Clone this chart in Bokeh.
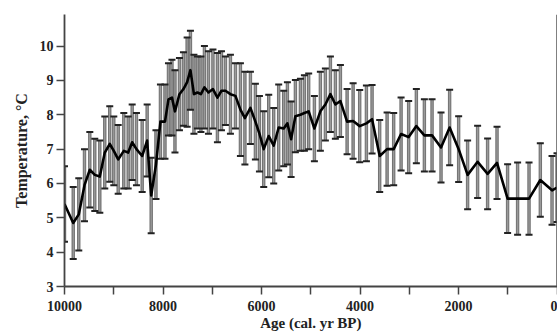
from bokeh.plotting import figure
from bokeh.models import Range1d, FixedTicker, Span, ColumnDataSource
from bokeh.embed import file_html
from bokeh.resources import INLINE

age = [10000, 9823, 9710, 9594, 9486, 9385, 9283, 9182, 9081, 8999,
       8910, 8796, 8707, 8626, 8539, 8423, 8322, 8240, 8143, 8052,
       7960, 7889, 7818, 7757, 7666, 7585, 7510, 7443, 7372, 7301,
       7230, 7159, 7077, 6986, 6895, 6813, 6732, 6631, 6529, 6428,
       6337, 6225, 6124, 6042, 5955, 5853, 5752, 5651, 5549, 5474,
       5399, 5312, 5210, 5129, 5042, 4926, 4805, 4703, 4601, 4500,
       4398, 4262, 4140, 4006, 3870, 3755, 3600, 3450, 3316, 3166,
       3012, 2856, 2693, 2537, 2355, 2180, 1997, 1815, 1612, 1409,
       1218, 1003, 800, 568, 339, 101, 0]

temperature = [5.4, 4.85, 5.1, 5.95, 6.4, 6.25, 6.2, 6.9, 7.15, 6.95,
               6.7, 6.95, 6.9, 7.2, 7.0, 6.8, 7.25, 5.65, 6.55, 7.8,
               7.8, 8.45, 8.5, 8.1, 8.6, 8.75, 8.95, 9.3, 8.6, 8.65,
               8.6, 8.8, 8.65, 8.75, 8.5, 8.7, 8.7, 8.6, 8.55, 8.15,
               7.9, 8.2, 7.8, 7.45, 7.0, 7.38, 7.1, 7.63, 7.6, 7.75,
               7.29, 7.96, 8.0, 8.05, 8.1, 7.6, 8.1, 8.3, 8.6, 8.3,
               8.4, 7.8, 7.82, 7.67, 7.75, 7.87, 6.8, 7.0, 7.0, 7.44,
               7.35, 7.67, 7.4, 7.4, 7.05, 7.63, 7.0, 6.25, 6.63, 6.28,
               6.6, 5.56, 5.56, 5.56, 6.1, 5.8, 5.88]

error = [1.1, 1.05, 1.05, 1.05, 1.1, 1.05, 1.05, 1.05, 1.1, 1.0,
         1.0, 1.1, 1.05, 1.1, 1.05, 1.05, 1.05, 1.1, 1.0, 1.08,
         1.08, 1.05, 1.1, 1.2, 1.05, 1.07, 1.3, 1.15, 1.15, 1.05,
         1.1, 1.2, 1.2, 1.15, 1.3, 1.15, 1.0, 1.15, 0.95, 1.35,
         1.35, 1.05, 1.1, 1.1, 1.1, 1.2, 1.1, 1.25, 1.1, 1.2,
         1.1, 1.05, 1.05, 1.1, 1.1, 0.95, 1.15, 1.05, 1.1, 1.0,
         1.05, 0.95, 1.1, 1.05, 1.1, 1.0, 1.05, 1.07, 1.05, 1.06,
         1.05, 1.08, 1.05, 1.05, 1.02, 1.1, 0.96, 1.0, 1.05, 1.03,
         1.05, 1.0, 1.05, 1.05, 1.07, 1.0, 1.0]

x_ticks = [10000, 9000, 8000, 7000, 6000, 5000, 4000, 3000, 2000, 1000, 0]
x_labels = {10000: "10000", 9000: "", 8000: "8000", 7000: "", 6000: "6000",
            5000: "", 4000: "4000", 3000: "", 2000: "2000", 1000: "", 0: "0"}
y_ticks = [3, 4, 5, 6, 7, 8, 9, 10]

lower = [t - e for t, e in zip(temperature, error)]
upper = [t + e for t, e in zip(temperature, error)]
src = ColumnDataSource(dict(age=age, t=temperature, lo=lower, hi=upper))

FONT = "Liberation Serif"

p = figure(width=557, height=333, output_backend="svg", toolbar_location=None,
           x_range=Range1d(10000, -10), y_range=Range1d(3, 10.92),
           min_border_left=64, min_border_right=0, min_border_top=14,
           min_border_bottom=44)
p.outline_line_color = None
p.grid.visible = False
p.background_fill_color = "white"
p.border_fill_color = "white"

# error bars
p.vbar(x="age", width=50, bottom="lo", top="hi", source=src,
       fill_color="#9a9a9a", line_color="#4a4a4a", line_width=0.7)
p.scatter(x="age", y="hi", source=src, marker="dash", size=7,
          line_color="#222222", line_width=2)
p.scatter(x="age", y="lo", source=src, marker="dash", size=7,
          line_color="#222222", line_width=2)

# main curve
p.line(x="age", y="t", source=src, line_color="black", line_width=2.6,
       line_join="round")

p.add_layout(Span(location=0, dimension="height", line_color="#555555",
                  line_width=1.5))

for ax in (p.xaxis[0], p.yaxis[0]):
    ax.axis_line_color = "#444444"
    ax.axis_line_width = 1.8
    ax.major_tick_line_color = "#444444"
    ax.major_tick_line_width = 1.5
    ax.major_tick_out = 8
    ax.major_tick_in = 0
    ax.minor_tick_line_color = None
    ax.major_label_text_font = FONT
    ax.major_label_text_font_style = "bold"
    ax.major_label_text_font_size = "14px"
    ax.major_label_text_color = "#222222"
    ax.axis_label_text_font = FONT
    ax.axis_label_text_font_style = "bold"
    ax.axis_label_text_color = "#222222"

p.xaxis[0].ticker = FixedTicker(ticks=x_ticks)
p.xaxis[0].major_label_overrides = x_labels
p.xaxis[0].major_label_standoff = 6
p.xaxis[0].axis_label = "Age (cal. yr BP)"
p.xaxis[0].axis_label_text_font_size = "15px"
p.xaxis[0].axis_label_standoff = 1

p.yaxis[0].ticker = FixedTicker(ticks=y_ticks)
p.yaxis[0].major_label_standoff = 3
p.yaxis[0].axis_label = "Temperature, °C"
p.yaxis[0].axis_label_text_font_size = "16px"
p.yaxis[0].axis_label_standoff = 7

open("out.html", "w").write(file_html(p, INLINE))
